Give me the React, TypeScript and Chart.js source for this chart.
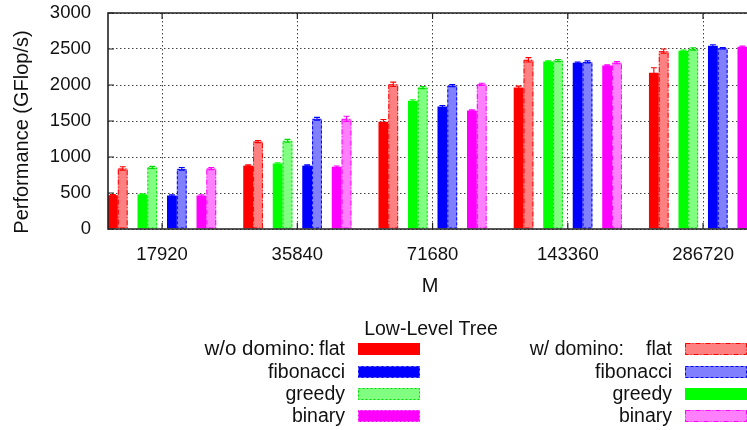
import React, { useEffect, useRef } from 'react';
import { Chart, registerables } from 'chart.js';

Chart.register(...registerables);

// ---- data ----
const categories = ['17920', '35840', '71680', '143360', '286720'];
const yTickValues = [0, 500, 1000, 1500, 2000, 2500, 3000];

const flatWo = [470, 880, 1490, 1965, 2170];
const flatW = [840, 1215, 2010, 2350, 2470];
const greedyA = [480, 910, 1780, 2325, 2475];
const greedyB = [855, 1225, 1965, 2340, 2500];
const fibWo = [465, 880, 1700, 2310, 2545];
const fibW = [835, 1530, 1990, 2320, 2510];
const binWo = [465, 865, 1645, 2270, 2530];
const binW = [840, 1530, 2010, 2310, 2520];

const errFlatWo = [10, 10, 30, 20, 70];
const errFlatW = [25, 15, 30, 30, 30];
const errGreedyA = [10, 10, 15, 10, 10];
const errGreedyB = [15, 20, 15, 15, 15];
const errFibWo = [10, 10, 15, 10, 15];
const errFibW = [20, 20, 15, 15, 10];
const errBinWo = [10, 10, 10, 10, 10];
const errBinW = [15, 35, 15, 15, 10];

const legendTitle = 'Low-Level Tree';
const legendNames = ['flat', 'fibonacci', 'greedy', 'binary'];
const legendLeftHead = 'w/o domino:';
const legendRightHead = 'w/ domino:';
const xTitle = 'M';
const yTitle = 'Performance (GFlop/s)';

// ---- styles ----
const FONT = '"Liberation Sans", Arial, Helvetica, sans-serif';
const TXT = '#111';

type Sty = { fill: string; line: string; dash: number[] };
const S_RED: Sty = { fill: '#ff0000', line: '#ff0000', dash: [] };
const S_LRED: Sty = { fill: '#ff8080', line: '#ff0000', dash: [5, 2, 1, 2] };
const S_GREEN: Sty = { fill: '#00ff00', line: '#00ff00', dash: [] };
const S_LGREEN: Sty = { fill: '#80ff80', line: '#00dd00', dash: [2, 2] };
const S_BLUE: Sty = { fill: '#0000ff', line: '#0000ff', dash: [] };
const S_LBLUE: Sty = { fill: '#8080ff', line: '#0000ff', dash: [3, 2] };
const S_MAG: Sty = { fill: '#ff00ff', line: '#ff00ff', dash: [] };
const S_LMAG: Sty = { fill: '#ff80ff', line: '#ff00ff', dash: [5, 2, 1, 2] };

type Series = { label: string; data: number[]; err: number[]; sty: Sty } | null;
const series: Series[] = [
  { label: 'w/o domino: flat', data: flatWo, err: errFlatWo, sty: S_RED },
  { label: 'w/ domino: flat', data: flatW, err: errFlatW, sty: S_LRED },
  null,
  { label: 'greedy A', data: greedyA, err: errGreedyA, sty: S_GREEN },
  { label: 'greedy B', data: greedyB, err: errGreedyB, sty: S_LGREEN },
  null,
  { label: 'w/o domino: fibonacci', data: fibWo, err: errFibWo, sty: S_BLUE },
  { label: 'w/ domino: fibonacci', data: fibW, err: errFibW, sty: S_LBLUE },
  null,
  { label: 'w/o domino: binary', data: binWo, err: errBinWo, sty: S_MAG },
  { label: 'w/ domino: binary', data: binW, err: errBinW, sty: S_LMAG },
];

// legend swatch styles (as drawn in the reference)
const legendLeftSty: Sty[] = [
  { fill: '#ff0000', line: '#ff0000', dash: [] },
  { fill: '#0000ff', line: '#7070ff', dash: [3, 2] },
  { fill: '#80ff80', line: '#00dd00', dash: [2, 2] },
  { fill: '#ff00ff', line: '#ff80ff', dash: [2, 2] },
];
const legendRightSty: Sty[] = [
  { fill: '#ff8080', line: '#ff0000', dash: [5, 2, 1, 2] },
  { fill: '#8080ff', line: '#0000ff', dash: [3, 2] },
  { fill: '#00ff00', line: '#00ff00', dash: [] },
  { fill: '#ff80ff', line: '#ff00ff', dash: [5, 2, 1, 2] },
];

const customPlugin = {
  id: 'custom',
  afterDatasetsDraw(chart: any) {
    const ctx = chart.ctx as CanvasRenderingContext2D;
    const ca = chart.chartArea;
    const yS = chart.scales.y;
    ctx.save();
    ctx.beginPath();
    ctx.rect(ca.left, ca.top, ca.right - ca.left, ca.bottom - ca.top);
    ctx.clip();
    series.forEach((s, di) => {
      if (!s) return;
      const meta = chart.getDatasetMeta(di);
      meta.data.forEach((bar: any, i: number) => {
        const { x, y, base, width } = bar.getProps(['x', 'y', 'base', 'width'], true);
        if (s.sty.dash.length) {
          ctx.setLineDash(s.sty.dash);
          ctx.strokeStyle = s.sty.line;
          ctx.lineWidth = 1;
          ctx.strokeRect(x - width / 2 + 0.5, y + 0.5, width - 1, base - y - 1);
        }
        const v = s.data[i];
        const e = s.err[i];
        const yt = yS.getPixelForValue(v + e);
        const yb = yS.getPixelForValue(v - e);
        ctx.setLineDash([]);
        ctx.strokeStyle = s.sty.line;
        ctx.lineWidth = 1.1;
        const hw = width * 0.3;
        ctx.beginPath();
        ctx.moveTo(x, yt);
        ctx.lineTo(x, yb);
        ctx.moveTo(x - hw, yt);
        ctx.lineTo(x + hw, yt);
        ctx.moveTo(x - hw, yb);
        ctx.lineTo(x + hw, yb);
        ctx.stroke();
      });
    });
    ctx.restore();
  },
  afterDraw(chart: any) {
    const ctx = chart.ctx as CanvasRenderingContext2D;
    const ca = chart.chartArea;
    const xS = chart.scales.x;
    const yS = chart.scales.y;
    ctx.save();
    ctx.setLineDash([]);
    ctx.strokeStyle = '#222';
    ctx.lineWidth = 1.6;
    ctx.beginPath();
    ctx.moveTo(ca.right, ca.top);
    ctx.lineTo(ca.left, ca.top);
    ctx.lineTo(ca.left, ca.bottom);
    ctx.lineTo(ca.right, ca.bottom);
    ctx.stroke();
    ctx.lineWidth = 1.2;
    ctx.beginPath();
    yTickValues.forEach((v) => {
      const py = yS.getPixelForValue(v);
      ctx.moveTo(ca.left, py);
      ctx.lineTo(ca.left + 6, py);
    });
    categories.forEach((_, i) => {
      const px = xS.getPixelForValue(i);
      ctx.moveTo(px, ca.top);
      ctx.lineTo(px, ca.top + 6);
      ctx.moveTo(px, ca.bottom);
      ctx.lineTo(px, ca.bottom - 6);
    });
    ctx.stroke();

    ctx.fillStyle = TXT;
    ctx.font = `20px ${FONT}`;
    ctx.textAlign = 'center';
    ctx.textBaseline = 'alphabetic';
    ctx.fillText(xTitle, 430, 292);
    ctx.save();
    ctx.translate(22, 132);
    ctx.rotate(-Math.PI / 2);
    ctx.textBaseline = 'middle';
    ctx.fillText(yTitle, 0, 0);
    ctx.restore();

    ctx.font = `19.5px ${FONT}`;
    ctx.textAlign = 'center';
    ctx.fillText(legendTitle, 431, 335);
    const rowTop = [343, 366, 388, 410];
    const drawSw = (x0: number, top: number, st: Sty) => {
      ctx.fillStyle = st.fill;
      ctx.fillRect(x0, top, 62, 12);
      ctx.setLineDash(st.dash);
      ctx.strokeStyle = st.line;
      ctx.lineWidth = 1;
      ctx.strokeRect(x0 + 0.5, top + 0.5, 61, 11);
      ctx.setLineDash([]);
    };
    ctx.textAlign = 'right';
    legendNames.forEach((n, i) => {
      const t = rowTop[i];
      ctx.fillStyle = TXT;
      ctx.fillText(n, 345, t + 12);
      ctx.fillText(n, 672, t + 12);
      if (i === 0) {
        ctx.font = `20.5px ${FONT}`;
        ctx.fillText(legendLeftHead, 315, t + 12);
        ctx.font = `19.5px ${FONT}`;
        ctx.fillText(legendRightHead, 624, t + 12);
      }
      drawSw(358, t, legendLeftSty[i]);
      drawSw(685, t, legendRightSty[i]);
    });
    ctx.restore();
  },
};

export default function App() {
  const ref = useRef<HTMLCanvasElement | null>(null);
  useEffect(() => {
    if (!ref.current) return;
    const tickFont = { family: FONT, size: 18.5 };
    const chart = new Chart(ref.current, {
      type: 'bar',
      data: {
        datasets: series.map((s) =>
          s
            ? {
                label: s.label,
                data: s.data.map((v, i) => ({ x: i, y: v })),
                backgroundColor: s.sty.fill,
                borderWidth: 0,
                categoryPercentage: 0.8,
                barPercentage: 1,
              }
            : {
                label: '',
                data: categories.map((_, i) => ({ x: i, y: null })),
                backgroundColor: 'rgba(0,0,0,0)',
                borderWidth: 0,
                categoryPercentage: 0.8,
                barPercentage: 1,
              }
        ) as any,
      },
      options: {
        animation: false,
        responsive: true,
        maintainAspectRatio: false,
        layout: { padding: { top: 13, left: 0, right: 0, bottom: 0 } },
        plugins: { legend: { display: false }, tooltip: { enabled: false } },
        scales: {
          x: {
            type: 'linear',
            offset: false,
            bounds: 'ticks',
            min: -0.4,
            max: 4.325,
            afterDataLimits: (s: any) => {
              s.min = -0.4;
              s.max = 4.325;
            },
            afterBuildTicks: (s: any) => {
              s.ticks = categories.map((_, i) => ({ value: i }));
            },
            afterFit: (s: any) => {
              s.height = 201;
              s.paddingLeft = 0;
              s.paddingRight = 0;
            },
            ticks: {
              callback: (v: any) => categories[v as number] ?? '',
              font: tickFont,
              color: TXT,
              padding: 15,
              maxRotation: 0,
              autoSkip: false,
            },
            grid: { color: '#444', lineWidth: 1, drawTicks: false, offset: false },
            border: { display: false, dash: [1.5, 2.5] },
          },
          y: {
            min: 0,
            max: 3000,
            afterBuildTicks: (s: any) => {
              s.ticks = yTickValues.map((v) => ({ value: v }));
            },
            afterFit: (s: any) => {
              s.width = 108;
              s.paddingTop = 0;
              s.paddingBottom = 0;
            },
            ticks: { font: tickFont, color: TXT, padding: 17, callback: (v: any) => String(v) },
            grid: { color: '#444', lineWidth: 1, drawTicks: false },
            border: { display: false, dash: [1.5, 2.5] },
          },
        },
      } as any,
      plugins: [customPlugin],
    });
    return () => chart.destroy();
  }, []);
  return (
    <div style={{ position: 'fixed', left: 0, top: 0, width: 747, height: 430, background: '#fff' }}>
      <canvas ref={ref} />
    </div>
  );
}
